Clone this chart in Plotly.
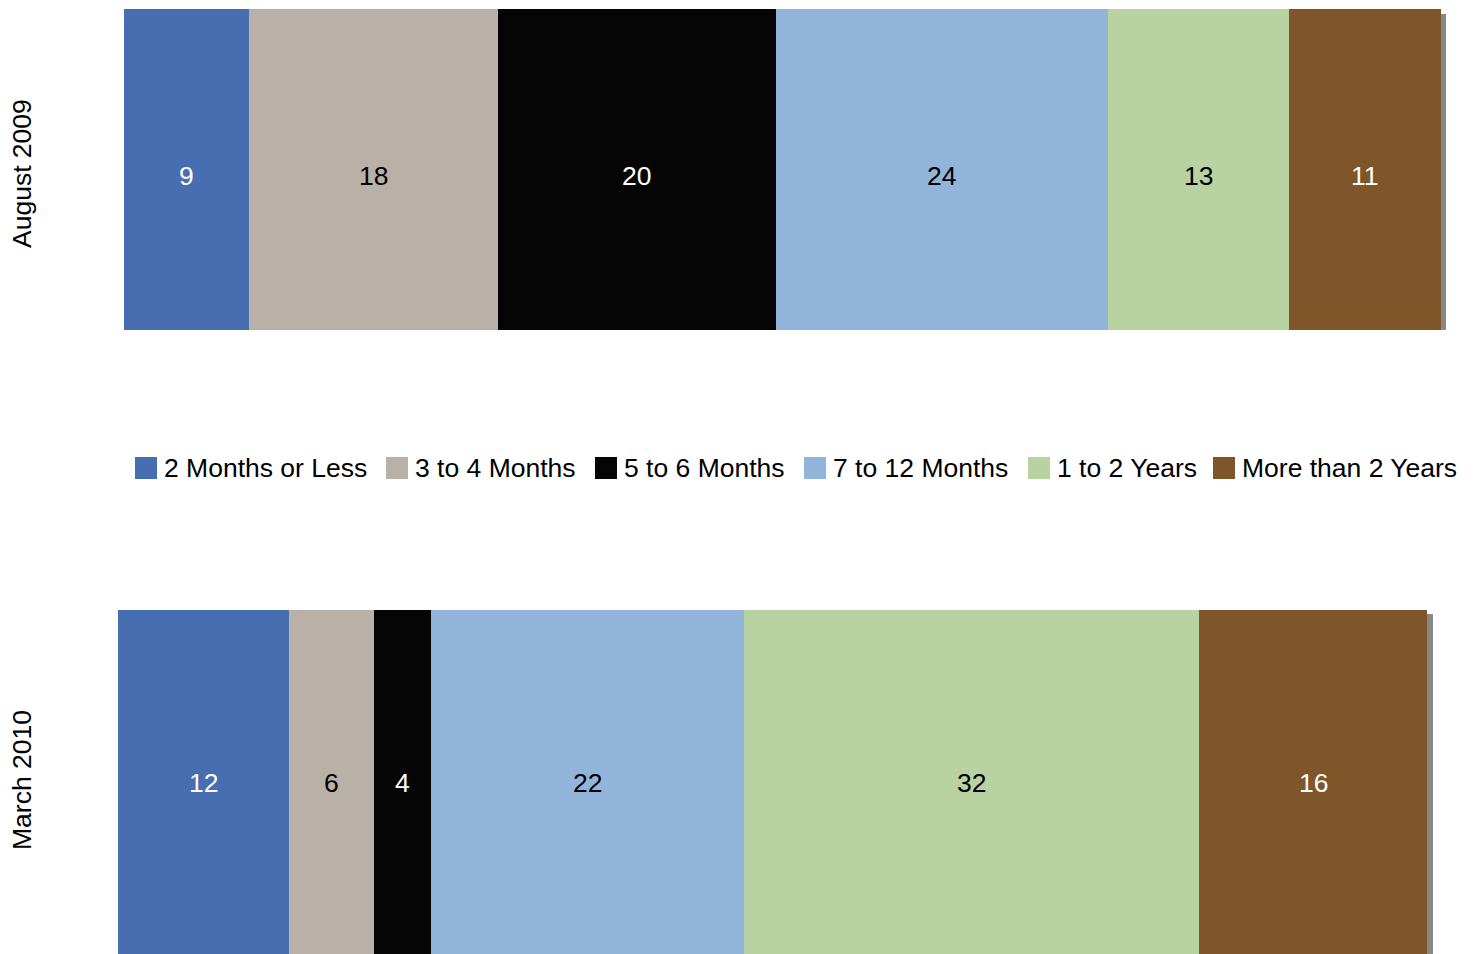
import plotly.graph_objects as go

categories = ["2 Months or Less", "3 to 4 Months", "5 to 6 Months",
              "7 to 12 Months", "1 to 2 Years", "More than 2 Years"]
periods = ["August 2009", "March 2010"]
aug_2009 = [9, 18, 20, 24, 13, 11]
mar_2010 = [12, 6, 4, 22, 32, 16]

colors = ["#476EB1", "#B9B1A7", "#050505", "#92B4DA", "#B8D2A1", "#7F5629"]
text_colors = ["white", "black", "white", "black", "black", "white"]

W, H = 1478, 954
OFF = 8  # page body margin offset in the screenshot
FONT = "Liberation Sans, Arial, Helvetica, sans-serif"
FS = 26.5

fig = go.Figure()
annotations = []
for vals, xa, ya, per, ysh in [(aug_2009, "x", "y", periods[0], -7),
                               (mar_2010, "x2", "y2", periods[1], 3)]:
    cum = 0
    for i, cat in enumerate(categories):
        fig.add_trace(go.Bar(
            x=[vals[i]], y=[per], orientation="h", name=cat,
            marker=dict(color=colors[i], line=dict(width=0)),
            showlegend=False, hoverinfo="x+name",
            xaxis=xa, yaxis=ya,
        ))
        annotations.append(dict(text=str(vals[i]), xref=xa, yref=ya,
                                x=cum + vals[i] / 2, y=per, yshift=ysh,
                                xanchor="center", yanchor="middle", showarrow=False,
                                font=dict(size=FS, family=FONT, color=text_colors[i])))
        cum += vals[i]

# screen-pixel geometry of the two bars
top_px = dict(x0=124, x1=1441, y0=9, y1=330)
bot_px = dict(x0=118, x1=1427, y0=610, y1=954 + OFF)

def px(v):
    return (v - OFF) / W

def py(v):
    return 1 - (v - OFF) / H

def xd(p):
    return [px(p["x0"]), px(p["x1"])]

def yd(p):
    return [max(0, py(p["y1"])), py(p["y0"])]

axis_common = dict(showgrid=False, zeroline=False, showticklabels=False, showline=False, ticks="", fixedrange=True)

fig.update_layout(
    width=W, height=H,
    margin=dict(l=0, r=0, t=0, b=0),
    paper_bgcolor="white", plot_bgcolor="white",
    barmode="stack", bargap=0,
    font=dict(family=FONT, size=FS, color="black"),
    xaxis=dict(domain=xd(top_px), range=[0, sum(aug_2009)], anchor="y", **axis_common),
    yaxis=dict(domain=yd(top_px), range=[-0.5, 0.5], anchor="x", **axis_common),
    xaxis2=dict(domain=xd(bot_px), range=[0, sum(mar_2010)], anchor="y2", **axis_common),
    yaxis2=dict(domain=yd(bot_px), range=[-0.5, 0.5], anchor="x2", **axis_common),
)

shapes = []
# drop shadows on right edge
shapes.append(dict(type="rect", xref="paper", yref="paper",
                   x0=px(top_px["x1"]), x1=px(top_px["x1"] + 5),
                   y0=py(top_px["y1"]), y1=py(top_px["y0"] + 5),
                   fillcolor="#888888", line=dict(width=0), layer="below"))
shapes.append(dict(type="rect", xref="paper", yref="paper",
                   x0=px(bot_px["x1"]), x1=px(bot_px["x1"] + 6),
                   y0=0, y1=py(bot_px["y0"] + 4),
                   fillcolor="#888888", line=dict(width=0), layer="below"))

# manual legend
box_x = [135, 386, 595, 804, 1028, 1213]
box_size = 22
ly0, ly1 = 457, 479
for i, cat in enumerate(categories):
    shapes.append(dict(type="rect", xref="paper", yref="paper",
                       x0=px(box_x[i]), x1=px(box_x[i] + box_size),
                       y0=py(ly1), y1=py(ly0),
                       fillcolor=colors[i], line=dict(width=0)))
    annotations.append(dict(text=cat, xref="paper", yref="paper",
                            x=px(box_x[i] + box_size + 5), y=py((ly0 + ly1) / 2),
                            xanchor="left", yanchor="middle", showarrow=False,
                            font=dict(size=FS, family=FONT, color="black")))

# period labels
for per, cy in zip(periods, [174, 780]):
    annotations.append(dict(text=per, xref="paper", yref="paper",
                            x=px(22), y=py(cy),
                            xanchor="center", yanchor="middle", textangle=-90,
                            showarrow=False, font=dict(size=FS, family=FONT, color="black")))

fig.update_layout(shapes=shapes, annotations=annotations)
fig.write_html("out.html")
